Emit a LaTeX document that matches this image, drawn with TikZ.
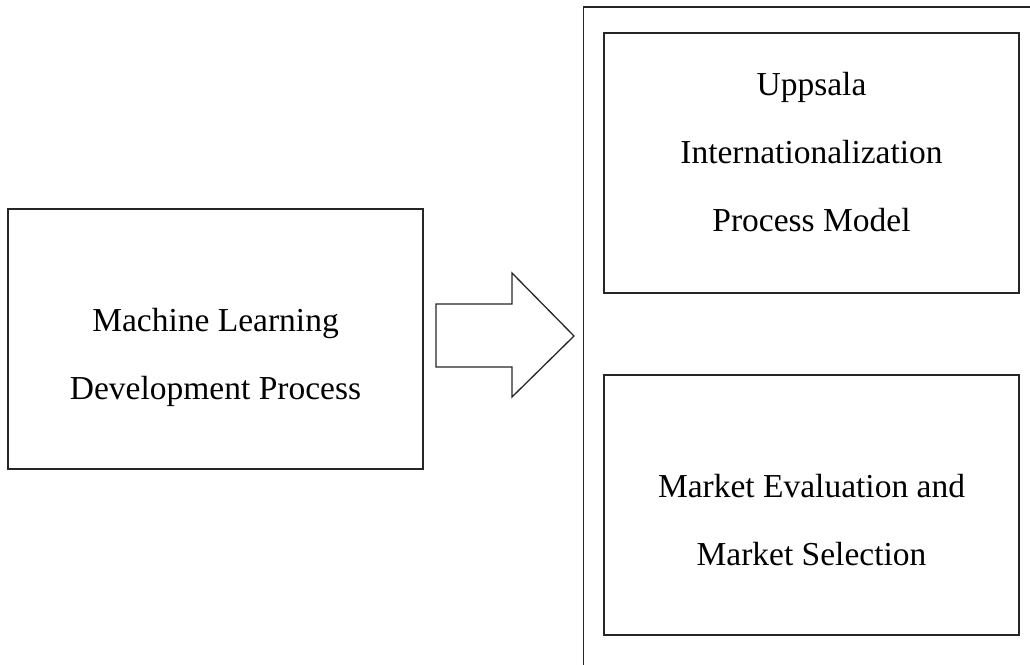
\documentclass[tikz,border=0pt]{standalone}
\usepackage{fontspec}
\setmainfont{Liberation Serif}
\begin{document}
\begin{tikzpicture}[x=1pt,y=-1pt,
  frame/.style={draw=black!85, line width=1.6pt},
  txt/.style={anchor=base, inner sep=0pt, font=\fontsize{33.5}{40}\selectfont}]
\useasboundingbox (0,0) rectangle (1030,664);
\begin{scope}
\clip (0,0) rectangle (1030,664);
% outer frame (extends beyond picture)
\draw[frame] (583.5,700) -- (583.5,7) -- (1045,7);
\end{scope}
% boxes
\draw[frame] (8,209) rectangle (423,469);
\draw[frame] (604,33) rectangle (1019,293);
\draw[frame] (604,375) rectangle (1019,635);
% block arrow
\draw[frame, line width=1.3pt, line join=miter, fill=white]
  (436,304) -- (512,304) -- (512,273) -- (574,336) -- (512,397) -- (512,367) -- (436,367) -- cycle;
% texts
\node[txt] (ml1) at (215.5,331) {Machine Learning};
\node[txt] (ml2) at (215.5,399) {Development Process};
\node[txt] (up1) at (811.5,95) {Uppsala};
\node[txt] (up2) at (811.5,163) {Internationalization};
\node[txt] (up3) at (811.5,231) {Process Model};
\node[txt] (me1) at (811.5,497) {Market Evaluation and};
\node[txt] (me2) at (811.5,565) {Market Selection};
\end{tikzpicture}
\end{document}
